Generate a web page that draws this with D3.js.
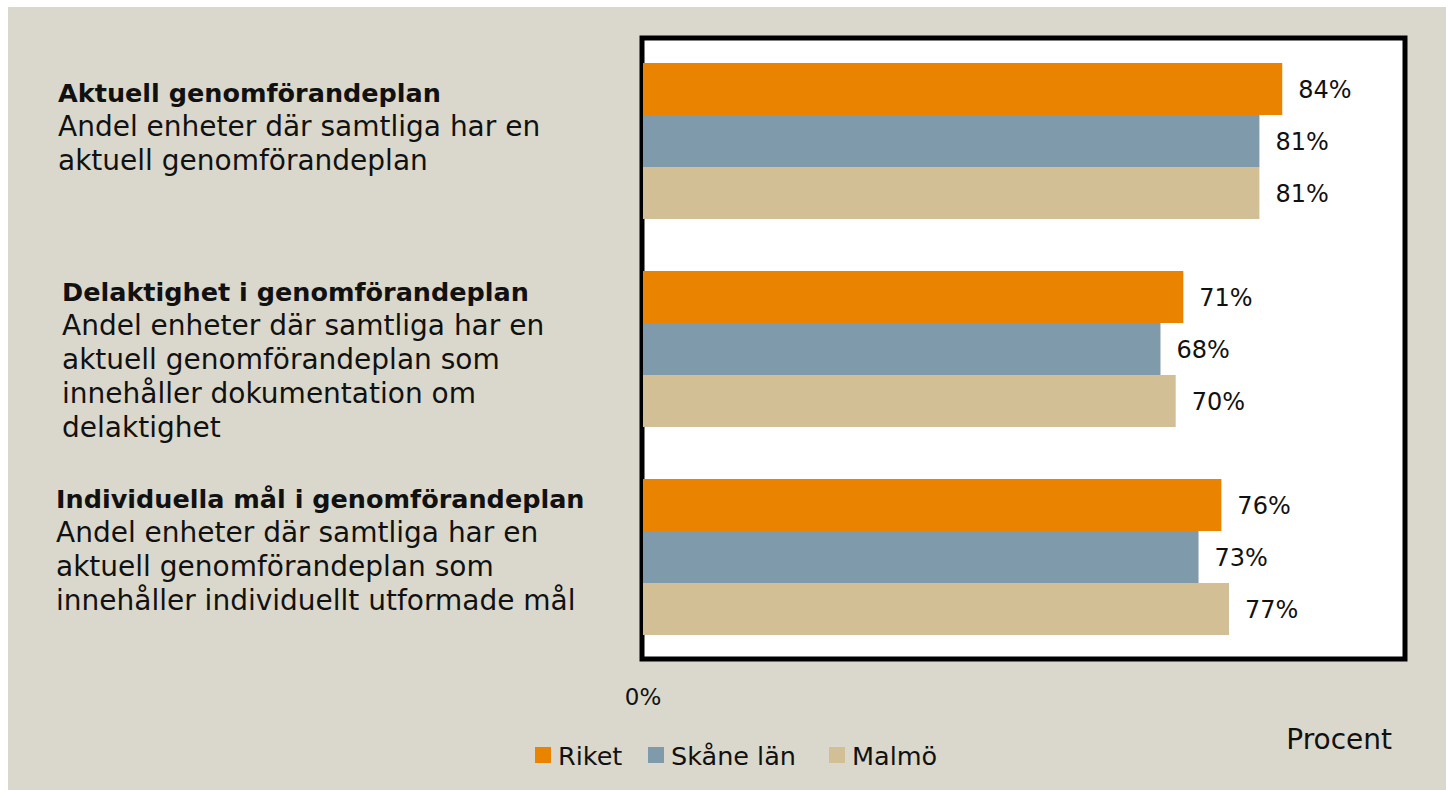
<!DOCTYPE html>
<html>
<head>
<meta charset="utf-8">
<script src="https://cdn.jsdelivr.net/npm/d3@7"></script>
<style>
  body { margin: 0; background: #fff; }
  svg { display: block; font-family: "DejaVu Sans", sans-serif; }
</style>
</head>
<body>
<div id="graph"></div>
<script>
// data
var categories = ["Aktuell genomförandeplan", "Delaktighet i genomförandeplan", "Individuella mål i genomförandeplan"];
var descriptions = [
  ["Andel enheter där samtliga har en", "aktuell genomförandeplan"],
  ["Andel enheter där samtliga har en", "aktuell genomförandeplan som", "innehåller dokumentation om", "delaktighet"],
  ["Andel enheter där samtliga har en", "aktuell genomförandeplan som", "innehåller individuellt utformade mål"]
];
var seriesNames = ["Riket", "Skåne län", "Malmö"];
var riket = [84, 71, 76];
var skane = [81, 68, 73];
var malmo = [81, 70, 77];
var seriesColors = ["#e98300", "#7f9aab", "#d3bf96"];

var width = 1446, height = 790;

var svg = d3.select("#graph")
  .append("svg")
    .attr("width", width)
    .attr("height", height);

// beige background with a thin white margin top/left
svg.append("rect")
  .attr("x", 8).attr("y", 7)
  .attr("width", width - 8).attr("height", height - 7)
  .attr("fill", "#dad8cc");

// plot frame
var frame = {left: 642, top: 38, right: 1405, bottom: 659};
svg.append("rect")
  .attr("x", frame.left).attr("y", frame.top)
  .attr("width", frame.right - frame.left)
  .attr("height", frame.bottom - frame.top)
  .attr("fill", "#fff")
  .attr("stroke", "#000")
  .attr("stroke-width", 5);

var x = d3.scaleLinear()
  .domain([0, 100])
  .range([643, 1404]);

var y0 = d3.scaleBand()
  .domain(categories)
  .range([37, 661])
  .paddingInner(0.25)
  .paddingOuter(0.125);

var y1 = d3.scaleBand()
  .domain(seriesNames)
  .range([0, y0.bandwidth()]);

var rows = categories.map(function (c, i) {
  return {
    cat: c,
    values: [
      {name: "Riket", value: riket[i]},
      {name: "Skåne län", value: skane[i]},
      {name: "Malmö", value: malmo[i]}
    ]
  };
});

var color = d3.scaleOrdinal().domain(seriesNames).range(seriesColors);

var groups = svg.selectAll("g.grp")
  .data(rows)
  .enter()
  .append("g")
    .attr("class", "grp")
    .attr("transform", function (d) { return "translate(0," + y0(d.cat) + ")"; });

groups.selectAll("rect")
  .data(function (d) { return d.values; })
  .enter()
  .append("rect")
    .attr("x", x(0))
    .attr("y", function (d) { return y1(d.name); })
    .attr("width", function (d) { return x(d.value) - x(0); })
    .attr("height", y1.bandwidth())
    .attr("fill", function (d) { return color(d.name); });

groups.selectAll("text")
  .data(function (d) { return d.values; })
  .enter()
  .append("text")
    .attr("x", function (d) { return x(d.value) + 16; })
    .attr("y", function (d) { return y1(d.name) + y1.bandwidth() / 2; })
    .attr("dy", "0.36em")
    .style("font-size", "24px")
    .style("fill", "#111")
    .text(function (d) { return d.value + "%"; });

// category labels on the left
var labelPos = [{x: 58, dy: 39}, {x: 62, dy: 30}, {x: 56, dy: 29}];
var lineH = 34;

categories.forEach(function (c, i) {
  var t = svg.append("text")
    .attr("x", labelPos[i].x)
    .attr("y", y0(c) + labelPos[i].dy)
    .style("fill", "#111");
  t.append("tspan")
    .attr("x", labelPos[i].x)
    .style("font-weight", "bold")
    .style("font-size", "25.5px")
    .text(c);
  descriptions[i].forEach(function (line) {
    t.append("tspan")
      .attr("x", labelPos[i].x)
      .attr("dy", lineH)
      .style("font-size", "28px")
      .text(line);
  });
});

// axis tick and title
svg.append("text")
  .attr("x", x(0)).attr("y", 705)
  .attr("text-anchor", "middle")
  .style("font-size", "23px")
  .style("fill", "#111")
  .text("0%");

svg.append("text")
  .attr("x", 1392).attr("y", 749)
  .attr("text-anchor", "end")
  .style("font-size", "28px")
  .style("fill", "#111")
  .text("Procent");

// legend
var legendX = [535, 648, 829];
var legend = svg.selectAll("g.legend")
  .data(seriesNames)
  .enter()
  .append("g")
    .attr("class", "legend")
    .attr("transform", function (d, i) { return "translate(" + legendX[i] + ",747)"; });

legend.append("rect")
  .attr("width", 16).attr("height", 16)
  .attr("fill", function (d) { return color(d); });

legend.append("text")
  .attr("x", 23).attr("y", 18)
  .style("font-size", "25.5px")
  .style("fill", "#111")
  .text(function (d) { return d; });
</script>
</body>
</html>
